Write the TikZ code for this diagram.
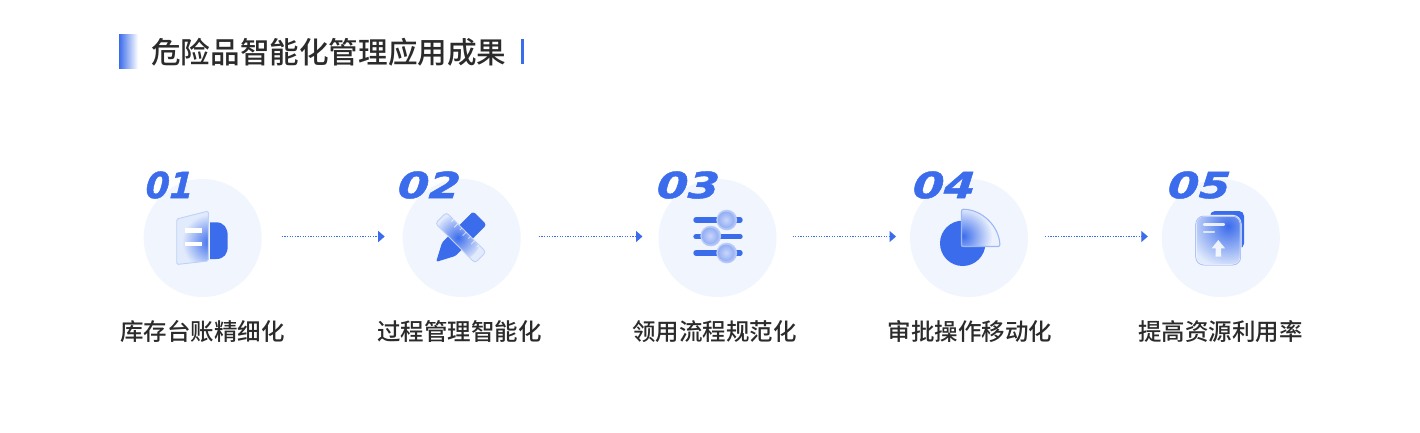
\documentclass[tikz,border=0pt]{standalone}
\usepackage{fontspec}
\setmainfont{Noto Sans CJK SC Medium}
\newfontfamily\numfont[BoldItalicFont={DejaVu Sans Bold Oblique},BoldItalicFeatures={FakeBold=1.2,FakeSlant=0.06}]{DejaVu Sans}
\usetikzlibrary{arrows.meta}
\definecolor{mainblue}{HTML}{3B6CEB}
\definecolor{discfill}{HTML}{F1F6FE}
\definecolor{ink}{HTML}{2B2B2B}
\definecolor{glass}{HTML}{E2EBFC}
\definecolor{rim}{HTML}{BFD1F9}
\tikzset{
  x=1pt,y=-1pt,
  discnode/.style={circle,fill=discfill,minimum size=118pt,inner sep=0pt,outer sep=0pt},
  captext/.style={font=\fontsize{23.5pt}{26pt}\selectfont,text=ink,inner sep=0pt},
  numtext/.style={font=\numfont\bfseries\itshape\fontsize{35pt}{35pt}\selectfont,text=mainblue,inner sep=0pt,anchor=west},
  flowline/.style={draw=mainblue,line width=1.3pt,dash pattern=on 1.3pt off 1.3pt,-{Triangle[length=6.5pt,width=11pt,fill=mainblue]}},
  whitebar/.style={fill=white},
}
\begin{document}
\begin{tikzpicture}
\useasboundingbox (0,0) rectangle (1420,432);
\fill[white] (0,0) rectangle (1420,432);

% title
\shade[left color=mainblue,right color=white] (119,34) rectangle (138,68.5);
\node[font=\fontsize{29.6pt}{32pt}\selectfont,text=ink,inner sep=0pt,anchor=west] (title) at (151,52) {危险品智能化管理应用成果};
\fill[mainblue] (521,39) rectangle (524,64);

% discs
\node[discnode] (c1) at (202.7,238) {};
\node[discnode] (c2) at (461.7,238) {};
\node[discnode] (c3) at (717.5,238) {};
\node[discnode] (c4) at (969,238) {};
\node[discnode] (c5) at (1220.8,238) {};

% flow arrows
\draw[flowline,shorten <=20pt,shorten >=18pt] ([yshift=1.5pt]c1.east) -- ([yshift=1.5pt]c2.west);
\draw[flowline,shorten <=18pt,shorten >=16pt] ([yshift=1.5pt]c2.east) -- ([yshift=1.5pt]c3.west);
\draw[flowline,shorten <=16pt,shorten >=14pt] ([yshift=1.5pt]c3.east) -- ([yshift=1.5pt]c4.west);
\draw[flowline,shorten <=17pt,shorten >=14pt] ([yshift=1.5pt]c4.east) -- ([yshift=1.5pt]c5.west);

% numbers
\node[numtext] (n1) at (145,185) {\scalebox{0.98}[1.03]{01}};
\node[numtext] (n2) at (397,185) {\scalebox{1.28}[1.03]{02}};
\node[numtext] (n3) at (656,185) {\scalebox{1.28}[1.03]{03}};
\node[numtext] (n4) at (912,185) {\scalebox{1.28}[1.03]{04}};
\node[numtext] (n5) at (1167,185) {\scalebox{1.28}[1.03]{05}};

% captions
\node[captext] (t1) at (202.5,332) {库存台账精细化};
\node[captext] (t2) at (459.5,332) {过程管理智能化};
\node[captext] (t3) at (714.5,332) {领用流程规范化};
\node[captext] (t4) at (970,332) {审批操作移动化};
\node[captext] (t5) at (1220.5,332) {提高资源利用率};

% icon 1
\fill[mainblue] (210,222.3) -- (216,222.3) .. controls (224,222.3) and (227.7,228) .. (227.7,236) -- (227.7,246) .. controls (227.7,254) and (224,259) .. (216,259) -- (210,259) -- cycle;
\begin{scope}
\clip[rounded corners=1.5pt] (176.7,219) -- (208.3,211) -- (208.3,261) -- (176.7,264.5) -- cycle;
\fill[glass] (170,205) rectangle (212,268);
\shade[inner color=mainblue,outer color=glass] (210,242) circle (28);
\end{scope}
\draw[rim,line width=0.9pt,rounded corners=1.5pt] (176.7,219) -- (208.3,211) -- (208.3,261) -- (176.7,264.5) -- cycle;
\fill[whitebar] (185,228.3) rectangle (202.3,232.7);
\fill[whitebar] (185,241.7) rectangle (202.3,246.3);

% icon 2
\begin{scope}[shift={(458,240)},rotate=45]
\fill[mainblue,rounded corners=1.5pt] (-31,0) -- (-13,-9.5) -- (28,-9.5) [rounded corners=3pt] -- (31,-9.5) -- (31,9.5) [rounded corners=1.5pt] -- (-13,9.5) -- cycle;
\end{scope}
\begin{scope}[shift={(460.7,237.7)},rotate=-45]
\begin{scope}
\clip[rounded corners=3pt] (-28,-7.8) rectangle (28,7.8);
\fill[glass] (-30,-10) rectangle (30,10);
\shade[inner color=mainblue,outer color=glass] (-2,2) circle (23);
\end{scope}
\draw[rim,line width=0.9pt,rounded corners=3pt] (-28,-7.8) rectangle (28,7.8);
\foreach \u/\l in {-18/3,-12/5,-6/3,0/5,6/3,12/5,18/3}{
  \draw[white,line width=0.8pt,opacity=0.7] (\u,-7.8) -- (\u,-7.8+\l);
}
\end{scope}

% icon 3
\foreach \yy in {220,236.7,253}{
  \draw[mainblue,line width=5.4pt,line cap=round] (696,\yy) -- (740,\yy);
}
\foreach \kx/\ky in {726.7/220,710.7/236,726.7/253}{
  \shade[inner color=mainblue!75!white,outer color=mainblue!32!white] (\kx,\ky) circle (10.4);
  \shade[inner color=mainblue!28!white,outer color=mainblue!55!white] (\kx-0.7,\ky-0.2) circle (8.2);
}

% icon 4
\fill[mainblue] (962.7,243.3) circle (22.7);
\begin{scope}
\clip (961.5,209.2) .. controls (982,209.5) and (999,226) .. (1000,246.5) -- (961.5,246.5) -- cycle;
\fill[glass!70!white] (955,205) rectangle (1003,250);
\shade[inner color=mainblue,outer color=glass!70!white] (963,236) circle (29);
\end{scope}
\draw[mainblue!50!white,line width=1.1pt,rounded corners=2pt] (961.5,209.2) .. controls (982,209.5) and (999,226) .. (1000,246.5) -- (961.5,246.5) -- cycle;

% icon 5
\fill[mainblue,rounded corners=5pt] (1210,211) rectangle (1244,248.5);
\begin{scope}
\clip[rounded corners=8pt] (1195.7,215.7) rectangle (1240.7,265);
\fill[glass] (1190,210) rectangle (1245,270);
\shade[inner color=mainblue,outer color=glass] (1228,226) circle (42);
\end{scope}
\draw[white,line width=1.6pt,rounded corners=8pt] (1195.7,215.7) rectangle (1240.7,265);
\draw[mainblue!40!white,line width=1pt,rounded corners=8pt] (1195.7,216) rectangle (1240.7,265);
\draw[white,line width=2.2pt,line cap=round,opacity=0.85] (1204,224.5) -- (1224,224.5);
\draw[white,line width=2.2pt,line cap=round,opacity=0.7] (1204,231.7) -- (1214,231.7);
\fill[white,opacity=0.85] (1218.3,240) -- (1225,248.3) -- (1221,248.3) -- (1221,256.7) -- (1215.7,256.7) -- (1215.7,248.3) -- (1211.7,248.3) -- cycle;
\end{tikzpicture}
\end{document}
